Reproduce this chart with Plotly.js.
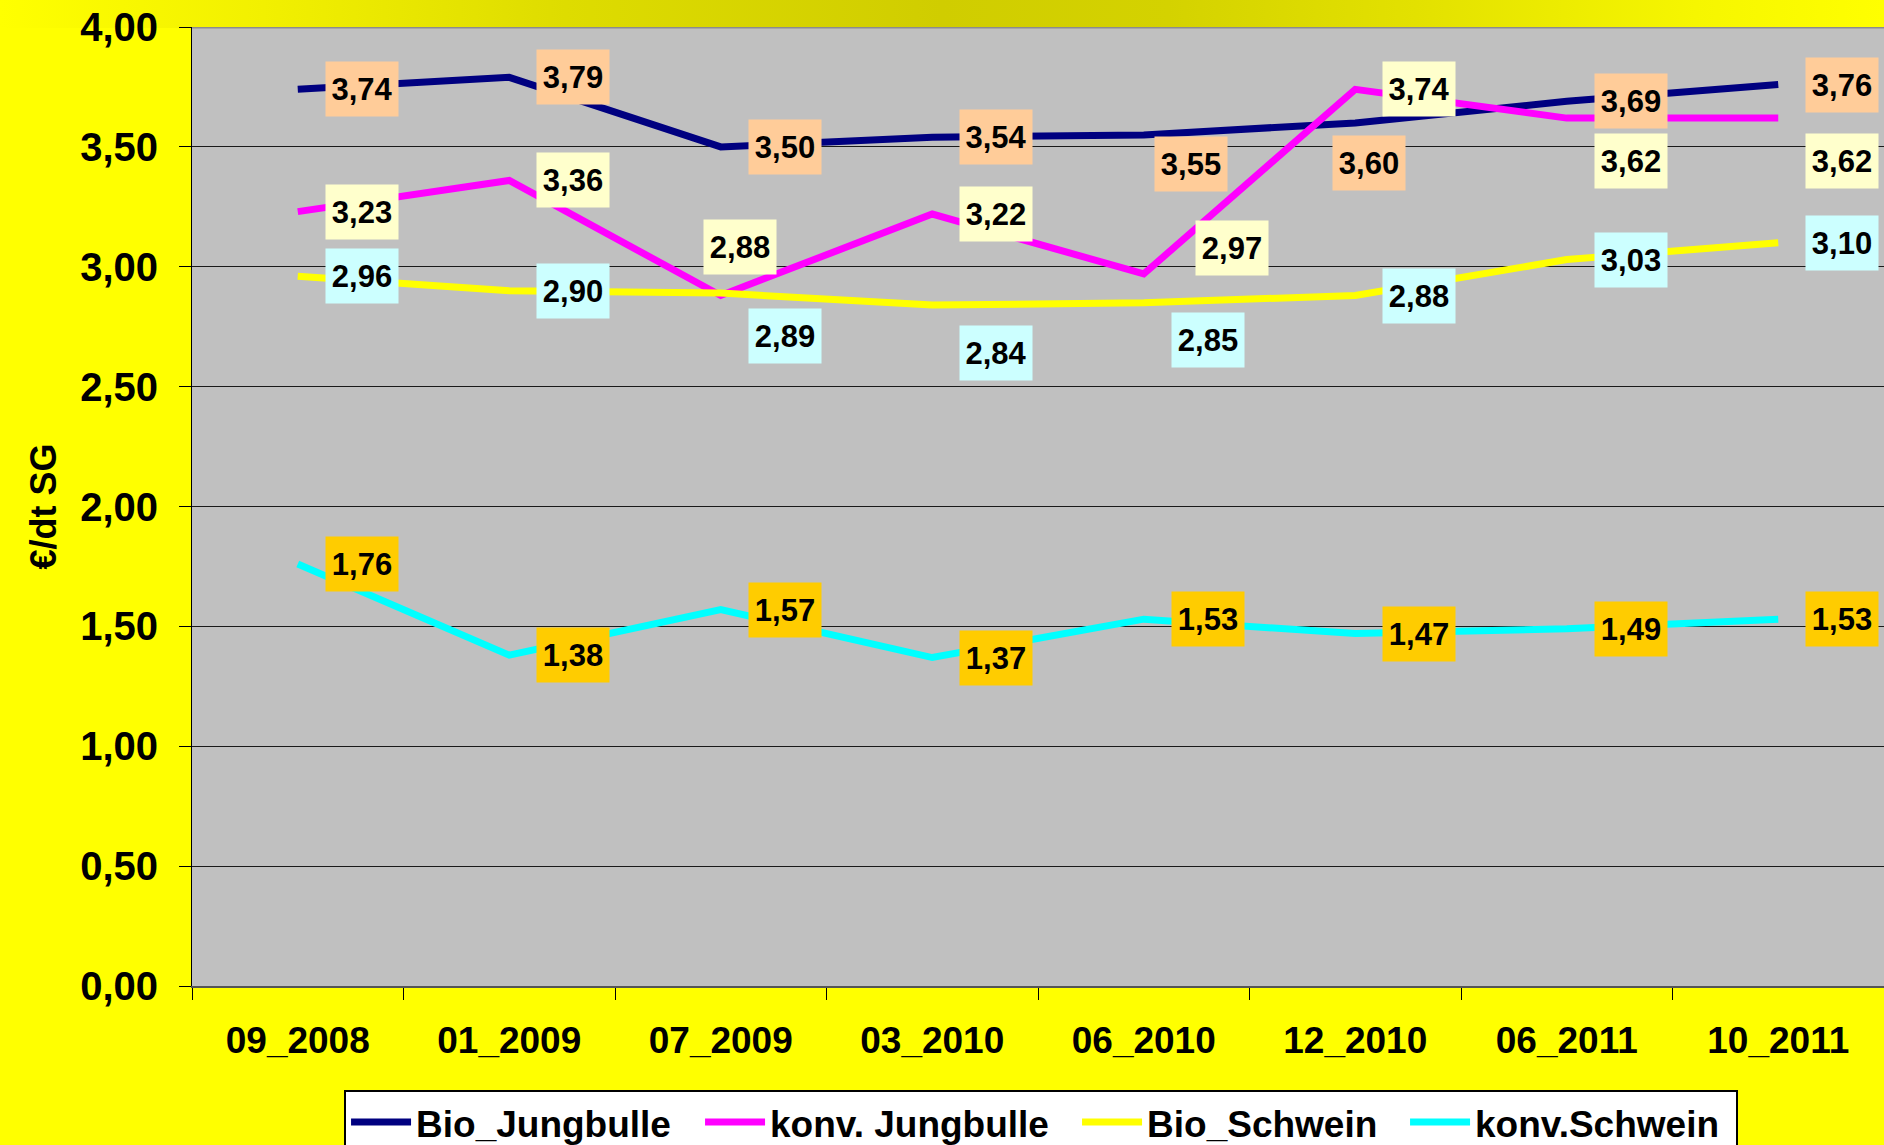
<!DOCTYPE html>
<html>
<head>
<meta charset="utf-8">
<script src="https://cdn.plot.ly/plotly-3.0.1.min.js"></script>
<style>
  html, body { margin: 0; padding: 0; overflow: hidden; background: #FFFF00; }
  #wrap { position: relative; width: 1884px; height: 1145px; background: #FFFF00; }
  #band { position: absolute; left: 0; top: 0; width: 1884px; height: 28px;
          background: linear-gradient(to right, #FFFF00 0%, #F2F000 14%, #DEDC00 30%, #D0CD00 50%, #D4D200 62%, #E4E200 76%, #F6F600 90%, #FFFF00 100%); }
  #chart { position: absolute; left: 0; top: 0; width: 1884px; height: 1145px; }
</style>
</head>
<body>
<div id="wrap">
  <div id="band"></div>
  <div id="chart"></div>
</div>
<script>
// ---- data ----
const categories = ['09_2008', '01_2009', '07_2009', '03_2010', '06_2010', '12_2010', '06_2011', '10_2011'];
const bioJungbulle  = [3.74, 3.79, 3.50, 3.54, 3.55, 3.60, 3.69, 3.76];
const konvJungbulle = [3.23, 3.36, 2.88, 3.22, 2.97, 3.74, 3.62, 3.62];
const bioSchwein    = [2.96, 2.90, 2.89, 2.84, 2.85, 2.88, 3.03, 3.10];
const konvSchwein   = [1.76, 1.38, 1.57, 1.37, 1.53, 1.47, 1.49, 1.53];
const seriesNames = ['Bio_Jungbulle', 'konv. Jungbulle', 'Bio_Schwein', 'konv.Schwein'];
const yTicks = [0, 0.5, 1, 1.5, 2, 2.5, 3, 3.5, 4];

// ---- styles ----
const lineColors  = ['#000080', '#FF00FF', '#FFFF00', '#00FFFF'];
const labelColors = ['#FFCC99', '#FFFFCC', '#CCFFFF', '#FFCC00'];
const legendWidths = [279, 302, 253, 256];
const baseShift = 64;
// label nudges [dx, dy] in px relative to default placement (right of point)
const labelNudges = [
  [[0,0],[0,0],[0,0],[0,0],[-17,-29],[-50,-40],[0,0],[0,0]],
  [[0,0],[0,0],[-45,49],[0,0],[24,26],[0,0],[0,-43],[0,-43]],
  [[0,0],[0,0],[0,-43],[0,-48],[0,-37],[0,0],[0,0],[0,0]],
  [[0,0],[0,0],[0,0],[0,0],[0,0],[0,0],[0,0],[0,0]]
];

const allSeries = [bioJungbulle, konvJungbulle, bioSchwein, konvSchwein];
const FONT = 'Liberation Sans, Arial, sans-serif';

const traces = allSeries.map((vals, s) => ({
  type: 'scatter', mode: 'lines',
  x: categories, y: vals, name: seriesNames[s],
  line: { color: lineColors[s], width: 7 },
  legendwidth: legendWidths[s],
  hoverinfo: 'skip'
}));

const annotations = [];
allSeries.forEach((vals, s) => {
  vals.forEach((v, i) => {
    annotations.push({
      x: categories[i], y: v, xref: 'x', yref: 'y',
      text: v.toFixed(2).replace('.', ','),
      showarrow: false,
      xshift: baseShift + labelNudges[s][i][0],
      yshift: labelNudges[s][i][1],
      bgcolor: labelColors[s],
      width: 70, height: 52, borderpad: 1,
      font: { family: FONT, size: 31, color: '#000', weight: 'bold' }
    });
  });
});

const layout = {
  width: 1884, height: 1145,
  paper_bgcolor: 'rgba(0,0,0,0)',
  plot_bgcolor: '#C0C0C0',
  separators: ',.',
  margin: { l: 192, r: 0, t: 27, b: 159, autoexpand: false },
  showlegend: true,
  font: { family: FONT, color: '#000' },
  xaxis: {
    type: 'category',
    range: [-0.5, 7.5],
    showgrid: false,
    showline: true, linecolor: '#555', linewidth: 2,
    ticks: 'outside', tickson: 'boundaries', ticklen: 12, tickcolor: '#000', tickwidth: 1,
    ticklabelstandoff: 21,
    tickfont: { family: FONT, size: 37, color: '#000', weight: 'bold' },
    fixedrange: true
  },
  yaxis: {
    range: [0, 4],
    tickvals: yTicks,
    tickformat: '.2f',
    showgrid: true, gridcolor: '#1a1a1a', gridwidth: 1,
    zeroline: false,
    showline: true, linecolor: '#000', linewidth: 1,
    ticks: 'outside', ticklen: 12, tickcolor: '#000', tickwidth: 1,
    ticklabelstandoff: 13,
    tickfont: { family: FONT, size: 40, color: '#000', weight: 'bold' },
    title: { text: '€/dt SG', font: { family: FONT, size: 36, color: '#000', weight: 'bold' }, standoff: 12 },
    fixedrange: true
  },
  legend: {
    orientation: 'h',
    x: 0.5018, xanchor: 'center',
    y: -0.108, yanchor: 'top',
    bgcolor: '#FFFFFF', bordercolor: '#000', borderwidth: 2,
    font: { family: FONT, size: 37, color: '#000', weight: 'bold' },
    itemwidth: 60,
    traceorder: 'normal'
  },
  shapes: [
    { type: 'line', xref: 'paper', yref: 'y', x0: 0, x1: 1, y0: 4, y1: 4,
      line: { color: '#8C8C8C', width: 3 }, layer: 'above' }
  ],
  annotations: annotations
};

Plotly.newPlot('chart', traces, layout, { displayModeBar: false, staticPlot: true });
</script>
</body>
</html>
